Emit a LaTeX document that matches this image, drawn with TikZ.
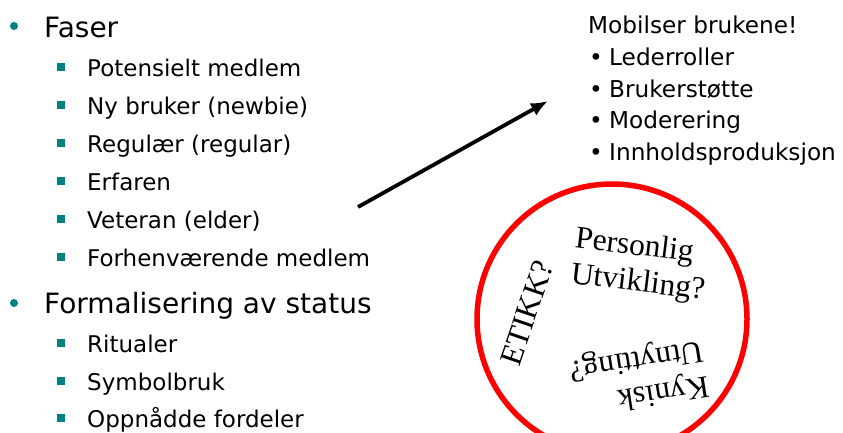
\documentclass[tikz,border=0pt]{standalone}
\usepackage{fontspec}
\usetikzlibrary{arrows.meta}
\setmainfont{DejaVu Sans}
\newfontfamily\timesfont{Liberation Serif}
\definecolor{tealbul}{RGB}{0,128,128}
\definecolor{ringred}{RGB}{255,0,0}
\begin{document}
\begin{tikzpicture}[x=1pt,y=-1pt,
  mainitem/.style={anchor=base west,inner sep=0pt,font=\fontsize{28}{30}\selectfont},
  subitem/.style={anchor=base west,inner sep=0pt,font=\fontsize{23}{26}\selectfont},
  rightitem/.style={anchor=base west,inner sep=0pt,font=\fontsize{23.2}{26}\selectfont},
  dotbul/.style={circle,fill=tealbul,inner sep=0pt,minimum size=8pt},
  sqbul/.style={rectangle,fill=tealbul,inner sep=0pt,minimum size=7.5pt},
  circtext/.style={inner sep=0pt,align=left,font=\timesfont\fontsize{31.5}{36}\selectfont}]
\useasboundingbox (0,0) rectangle (843,432);
% left list
\node[dotbul] (b1) at (14,26) {};
\node[mainitem] (faser) at (44,37) {Faser};
\foreach \y/\t/\n in {76/Potensielt medlem/s1, 114/Ny bruker (newbie)/s2, 152/Regulær (regular)/s3, 190/Erfaren/s4, 228/Veteran (elder)/s5, 266/Forhenværende medlem/s6, 352/Ritualer/s7, 390/Symbolbruk/s8, 427/Oppnådde fordeler/s9}{
  \node[sqbul] (\n b) at (61,\y-9) {};
  \node[subitem] (\n) at (87,\y) {\t};
}
\node[dotbul] (b2) at (14,303) {};
\node[mainitem] (formal) at (44,313) {Formalisering av status};
% right list
\node[rightitem] (mob) at (588,33) {Mobilser brukene!};
\foreach \y/\t/\n in {65/Lederroller/r1, 97/Brukerstøtte/r2, 128/Moderering/r3, 160/Innholdsproduksjon/r4}{
  \node[rightitem] (\n b) at (589,\y) {•};
  \node[rightitem] (\n) at (609,\y) {\t};
}
% arrow
\coordinate (astart) at (358,207);
\coordinate (aend) at (548,101);
\draw[line width=3.8pt,-{Latex[length=17pt,width=14pt]}] (astart) -- (aend);
% ring
\node[circle,draw=ringred,line width=5.5pt,minimum size=270pt,inner sep=0pt] (ring) at (612,319) {};
\node[circtext,rotate=-7] (pers) at (640,266) {Personlig\\Utvikling?};
\node[circtext,rotate=71] (etikk) at (527,313) {ETIKK?};
\node[circtext,rotate=189] (kyn) at (639,377) {Kynisk\\Utnytting?};
\end{tikzpicture}
\end{document}
